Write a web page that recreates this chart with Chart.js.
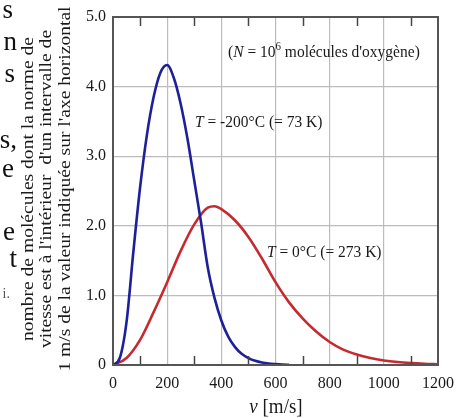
<!DOCTYPE html>
<html>
<head>
<meta charset="utf-8">
<script src="https://cdn.jsdelivr.net/npm/chart.js@4.4.1/dist/chart.umd.min.js"></script>
<style>
html,body{margin:0;padding:0;background:#fff;}
#wrap{position:relative;width:464px;height:418px;}
</style>
</head>
<body>
<div id="wrap"><canvas id="c" width="464" height="418"></canvas></div>
<script>
// speeds in m/s, counts in thousands of molecules per 1 m/s interval
const blueSpeeds = [0,25,50,75,100,125,150,175,200,225,250,275,300,325,350,375,400,425,450,475,500,525,550,575,600,625,650];
const blueCounts = [0,0.1,0.62,1.62,2.55,3.3,3.85,4.2,4.31,4.12,3.75,3.25,2.65,2.05,1.4,0.96,0.64,0.41,0.26,0.16,0.1,0.06,0.035,0.02,0.012,0.006,0.003];
const redSpeeds = [0,50,100,150,200,250,300,350,375,400,450,500,550,600,650,700,750,800,850,900,950,1000,1050,1100,1150,1200];
const redCounts = [0,0.1,0.36,0.76,1.19,1.64,2.02,2.26,2.28,2.24,2.08,1.84,1.53,1.19,0.9,0.67,0.48,0.33,0.22,0.15,0.1,0.065,0.042,0.027,0.017,0.011];
const xTicks = [0,200,400,600,800,1000,1200];
const yTicks = ["0","1.0","2.0","3.0","4.0","5.0"];
const blueLabel = "T = -200°C (= 73 K)";
const redLabel = "T = 0°C (= 273 K)";
const titleLines = ["nombre de molécules dont la norme de","vitesse est à l'intérieur  d'un intervalle de","1 m/s de la valeur indiquée sur l'axe horizontal"];
const sideFragments = ["s","n","s","s,","e","e","t","i."];

const SERIF = '"Liberation Serif","DejaVu Serif",serif';

function pts(xs, ys){ return xs.map((x,i)=>({x:x,y:ys[i]})); }

function drawRuns(ctx, x, y, runs, align, sy){
  // runs: [text, fontStr, dy]
  let total = 0;
  runs.forEach(r=>{ctx.font=r[1]; total+=ctx.measureText(r[0]).width;});
  ctx.save();
  ctx.translate(x, y);
  ctx.scale(1, sy||1);
  let cx = align==='center' ? -total/2 : 0;
  runs.forEach(r=>{ctx.font=r[1]; ctx.fillText(r[0], cx, (r[2]||0)); cx+=ctx.measureText(r[0]).width;});
  ctx.restore();
}

const deco = {
  id:'deco',
  afterDraw(chart){
    const ctx = chart.ctx, a = chart.chartArea, xs = chart.scales.x;
    ctx.save();
    // inner minor ticks
    ctx.strokeStyle = '#444'; ctx.lineWidth = 1.5;
    for(let v=100; v<1200; v+=200){
      const px = Math.round(xs.getPixelForValue(v))+0.5;
      ctx.beginPath(); ctx.moveTo(px,a.top); ctx.lineTo(px,a.top+9); ctx.stroke();
      ctx.beginPath(); ctx.moveTo(px,a.bottom); ctx.lineTo(px,a.bottom-9); ctx.stroke();
    }
    // frame
    ctx.strokeStyle = '#555'; ctx.lineWidth = 2;
    ctx.strokeRect(a.left, a.top, a.right-a.left, a.bottom-a.top);
    ctx.fillStyle = '#1a1a1a';
    ctx.textBaseline = 'alphabetic'; ctx.textAlign = 'left';
    // annotations
    const F = "15.5px "+SERIF, FI = "italic 15.5px "+SERIF;
    drawRuns(ctx, 228, 57, [["(", F],["N",FI],[" = 10",F],["6","11px "+SERIF,-6],[" molécules d'oxygène)",F]], 'left', 1.1);
    drawRuns(ctx, 195, 127, [["T",FI],[blueLabel.slice(1),F]], 'left', 1.1);
    drawRuns(ctx, 267, 257, [["T",FI],[redLabel.slice(1),F]], 'left', 1.1);
    // x title
    drawRuns(ctx, 276, 413, [["v","italic 19px "+SERIF],[" [m/s]","19px "+SERIF]], 'center', 1.05);
    // y title (rotated)
    ctx.save();
    ctx.rotate(-Math.PI/2);
    ctx.scale(1.15, 1);
    ctx.textAlign = 'center';
    ctx.font = "17px "+SERIF;
    const cols = [33, 51, 70];
    titleLines.forEach((t,i)=>{ ctx.fillText(t, -189/1.15, cols[i]); });
    ctx.restore();
    // cut-off fragments of neighbouring text
    ctx.textAlign = 'right';
    const fy = [18,50,82,148,177,240,267,298];
    const fx = [13,17,15,17,14,15,17,10];
    sideFragments.forEach((t,i)=>{
      ctx.font = (i===7? "14px ":"27px ")+SERIF;
      ctx.fillStyle = i===7 ? '#555' : '#111';
      ctx.fillText(t, fx[i], fy[i]);
    });
    ctx.restore();
  }
};

new Chart(document.getElementById('c'), {
  type:'scatter',
  data:{datasets:[
    {data:pts(blueSpeeds,blueCounts), showLine:true, borderColor:'#1f1f99', borderWidth:2.6, pointRadius:0, cubicInterpolationMode:'monotone', fill:false},
    {data:pts(redSpeeds,redCounts), showLine:true, borderColor:'#c62a30', borderWidth:2.6, pointRadius:0, cubicInterpolationMode:'monotone', fill:false}
  ]},
  options:{
    responsive:false, animation:false, events:[],
    layout:{padding:{left:0,top:17,right:26,bottom:0}},
    plugins:{legend:{display:false}, tooltip:{enabled:false}},
    scales:{
      x:{type:'linear', min:0, max:1200,
        afterFit:s=>{s.height=53;},
        afterBuildTicks:s=>{s.ticks = xTicks.map(v=>({value:v}));},
        grid:{color:c=> (c.tick && c.tick.value>0 && c.tick.value<1200) ? '#bcbcbc' : 'transparent', lineWidth:1.2, drawTicks:false},
        border:{display:false},
        ticks:{padding:9, color:'#1a1a1a', font:{family:SERIF,size:16}, maxRotation:0, callback:v=>String(v)}
      },
      y:{type:'linear', min:0, max:5,
        afterFit:s=>{s.width=113;},
        afterBuildTicks:s=>{s.ticks = yTicks.map((t,i)=>({value:i}));},
        grid:{color:c=> (c.tick && c.tick.value>0 && c.tick.value<5) ? '#bcbcbc' : 'transparent', lineWidth:1.2, drawTicks:false},
        border:{display:false},
        ticks:{padding:7, color:'#1a1a1a', font:{family:SERIF,size:16}, callback:(v)=>yTicks[Math.round(v)]}
      }
    }
  },
  plugins:[deco]
});
</script>
</body>
</html>
